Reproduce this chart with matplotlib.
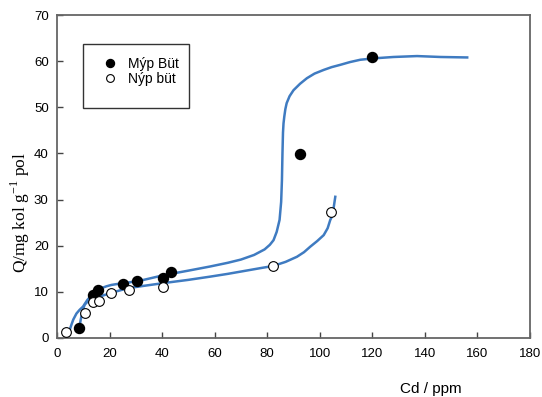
import matplotlib
matplotlib.use("Agg")
import matplotlib.pyplot as plt
from matplotlib.patches import Rectangle

# Data points
myp_x = [8.5, 13.8, 15.7, 25.0, 30.6, 40.5, 43.3, 92.6, 119.7]
myp_y = [2.1, 9.3, 10.5, 11.6, 12.4, 13.1, 14.2, 39.9, 61.0]

nyp_x = [3.3, 10.7, 13.8, 16.1, 20.4, 27.3, 40.5, 82.2, 104.4]
nyp_y = [1.4, 5.4, 7.7, 8.1, 9.7, 10.4, 11.1, 15.6, 27.2]

# Fitted curves
curveA_x = [4.8, 5.5, 6.2, 7.4, 8.6, 9.9, 11.5, 13.1, 15.0, 16.9, 18.8, 20.7, 24.0, 27.0,
            33.0, 40.5, 50.0, 58.3, 65.0, 70.0, 75.0, 79.0, 81.0, 82.4, 83.6, 84.7, 85.3,
            85.6, 85.8, 86.0, 86.2, 86.5, 86.9, 87.4, 88.5, 90.0, 92.5, 95.1, 98.0,
            101.5, 104.5, 107.8, 111.5, 115.4, 120.5, 128.0, 137.0, 146.0, 156.1]
curveA_y = [1.7, 2.9, 4.0, 5.3, 6.1, 6.8, 8.2, 9.3, 10.2, 10.8, 11.2, 11.5, 11.8, 12.0,
            12.6, 13.6, 14.6, 15.5, 16.3, 17.0, 18.0, 19.2, 20.2, 21.2, 23.0, 25.6, 29.5,
            34.2, 40.0, 44.5, 46.5, 48.0, 49.6, 50.9, 52.4, 53.7, 55.1, 56.3, 57.3,
            58.1, 58.7, 59.2, 59.8, 60.3, 60.6, 60.9, 61.1, 60.9, 60.8]

curveB_x = [8.6, 9.0, 9.5, 10.0, 10.5, 11.5, 13.1, 15.0, 16.9, 20.7, 27.0, 33.0, 40.5,
            50.0, 58.3, 65.0, 72.0, 78.0, 82.2, 87.0, 91.3, 94.0, 96.4, 99.0, 101.5,
            103.0, 104.0, 104.6, 105.3, 105.9]
curveB_y = [2.5, 3.9, 5.3, 6.3, 7.2, 7.8, 8.2, 8.7, 9.1, 9.8, 10.8, 11.3, 11.9,
            12.6, 13.3, 13.9, 14.6, 15.2, 15.6, 16.5, 17.6, 18.6, 19.8, 21.0, 22.3,
            23.8, 25.6, 26.3, 28.3, 30.6]

x_ticks = [0, 20, 40, 60, 80, 100, 120, 140, 160, 180]
y_ticks = [0, 10, 20, 30, 40, 50, 60, 70]

series_labels = ["Mýp Büt", "Nýp büt"]

plt.rcParams['font.family'] = ['Liberation Sans', 'DejaVu Sans']

fig = plt.figure(figsize=(5.42, 3.97), dpi=100)
ax = fig.add_axes([57/542, 1 - 338/397, 473/542, 323/397])

blue = '#3F7BC1'
ax.plot(curveA_x, curveA_y, color=blue, lw=1.8, zorder=2)
ax.plot(curveB_x, curveB_y, color=blue, lw=1.8, zorder=2)

h1, = ax.plot(myp_x, myp_y, 'o', color='black', markersize=7.2, zorder=3,
              label=series_labels[0])
h2, = ax.plot(nyp_x, nyp_y, 'o', markerfacecolor='white', markeredgecolor='black',
              markeredgewidth=0.8, markersize=7, zorder=3, label=series_labels[1])

ax.set_xlim(0, 180)
ax.set_ylim(0, 70)
ax.set_xticks(x_ticks)
ax.set_yticks(y_ticks)
ax.tick_params(direction='in', length=4, width=1, color='#444444', labelsize=9.5)
ax.tick_params(axis='x', pad=7)
ax.tick_params(axis='y', pad=6)
for s in ax.spines.values():
    s.set_color('#666666')
    s.set_linewidth(1.3)

# legend frame
ax.add_patch(Rectangle((83/542, 1 - 108/397), (189-83)/542, (108-44)/397,
                       transform=fig.transFigure, fill=False, edgecolor='#333333',
                       lw=1.0, zorder=5))
leg = fig.legend(handles=[h1, h2], loc='upper left',
                 bbox_to_anchor=(96/542, 1 - 50/397), frameon=False,
                 fontsize=10, handlelength=1.0, handletextpad=0.8,
                 labelspacing=0.1, borderpad=0, markerscale=0.8)

fig.text(431/542, 1 - 389/397, 'Cd / ppm', ha='center', va='center', fontsize=11)
fig.text(20/542, 1 - 213/397, r'Q/mg kol g$^{\mathregular{-1}}$ pol', rotation=90,
         ha='center', va='center', fontsize=12.5, family='Liberation Serif')

fig.savefig('out.png', dpi=100)
